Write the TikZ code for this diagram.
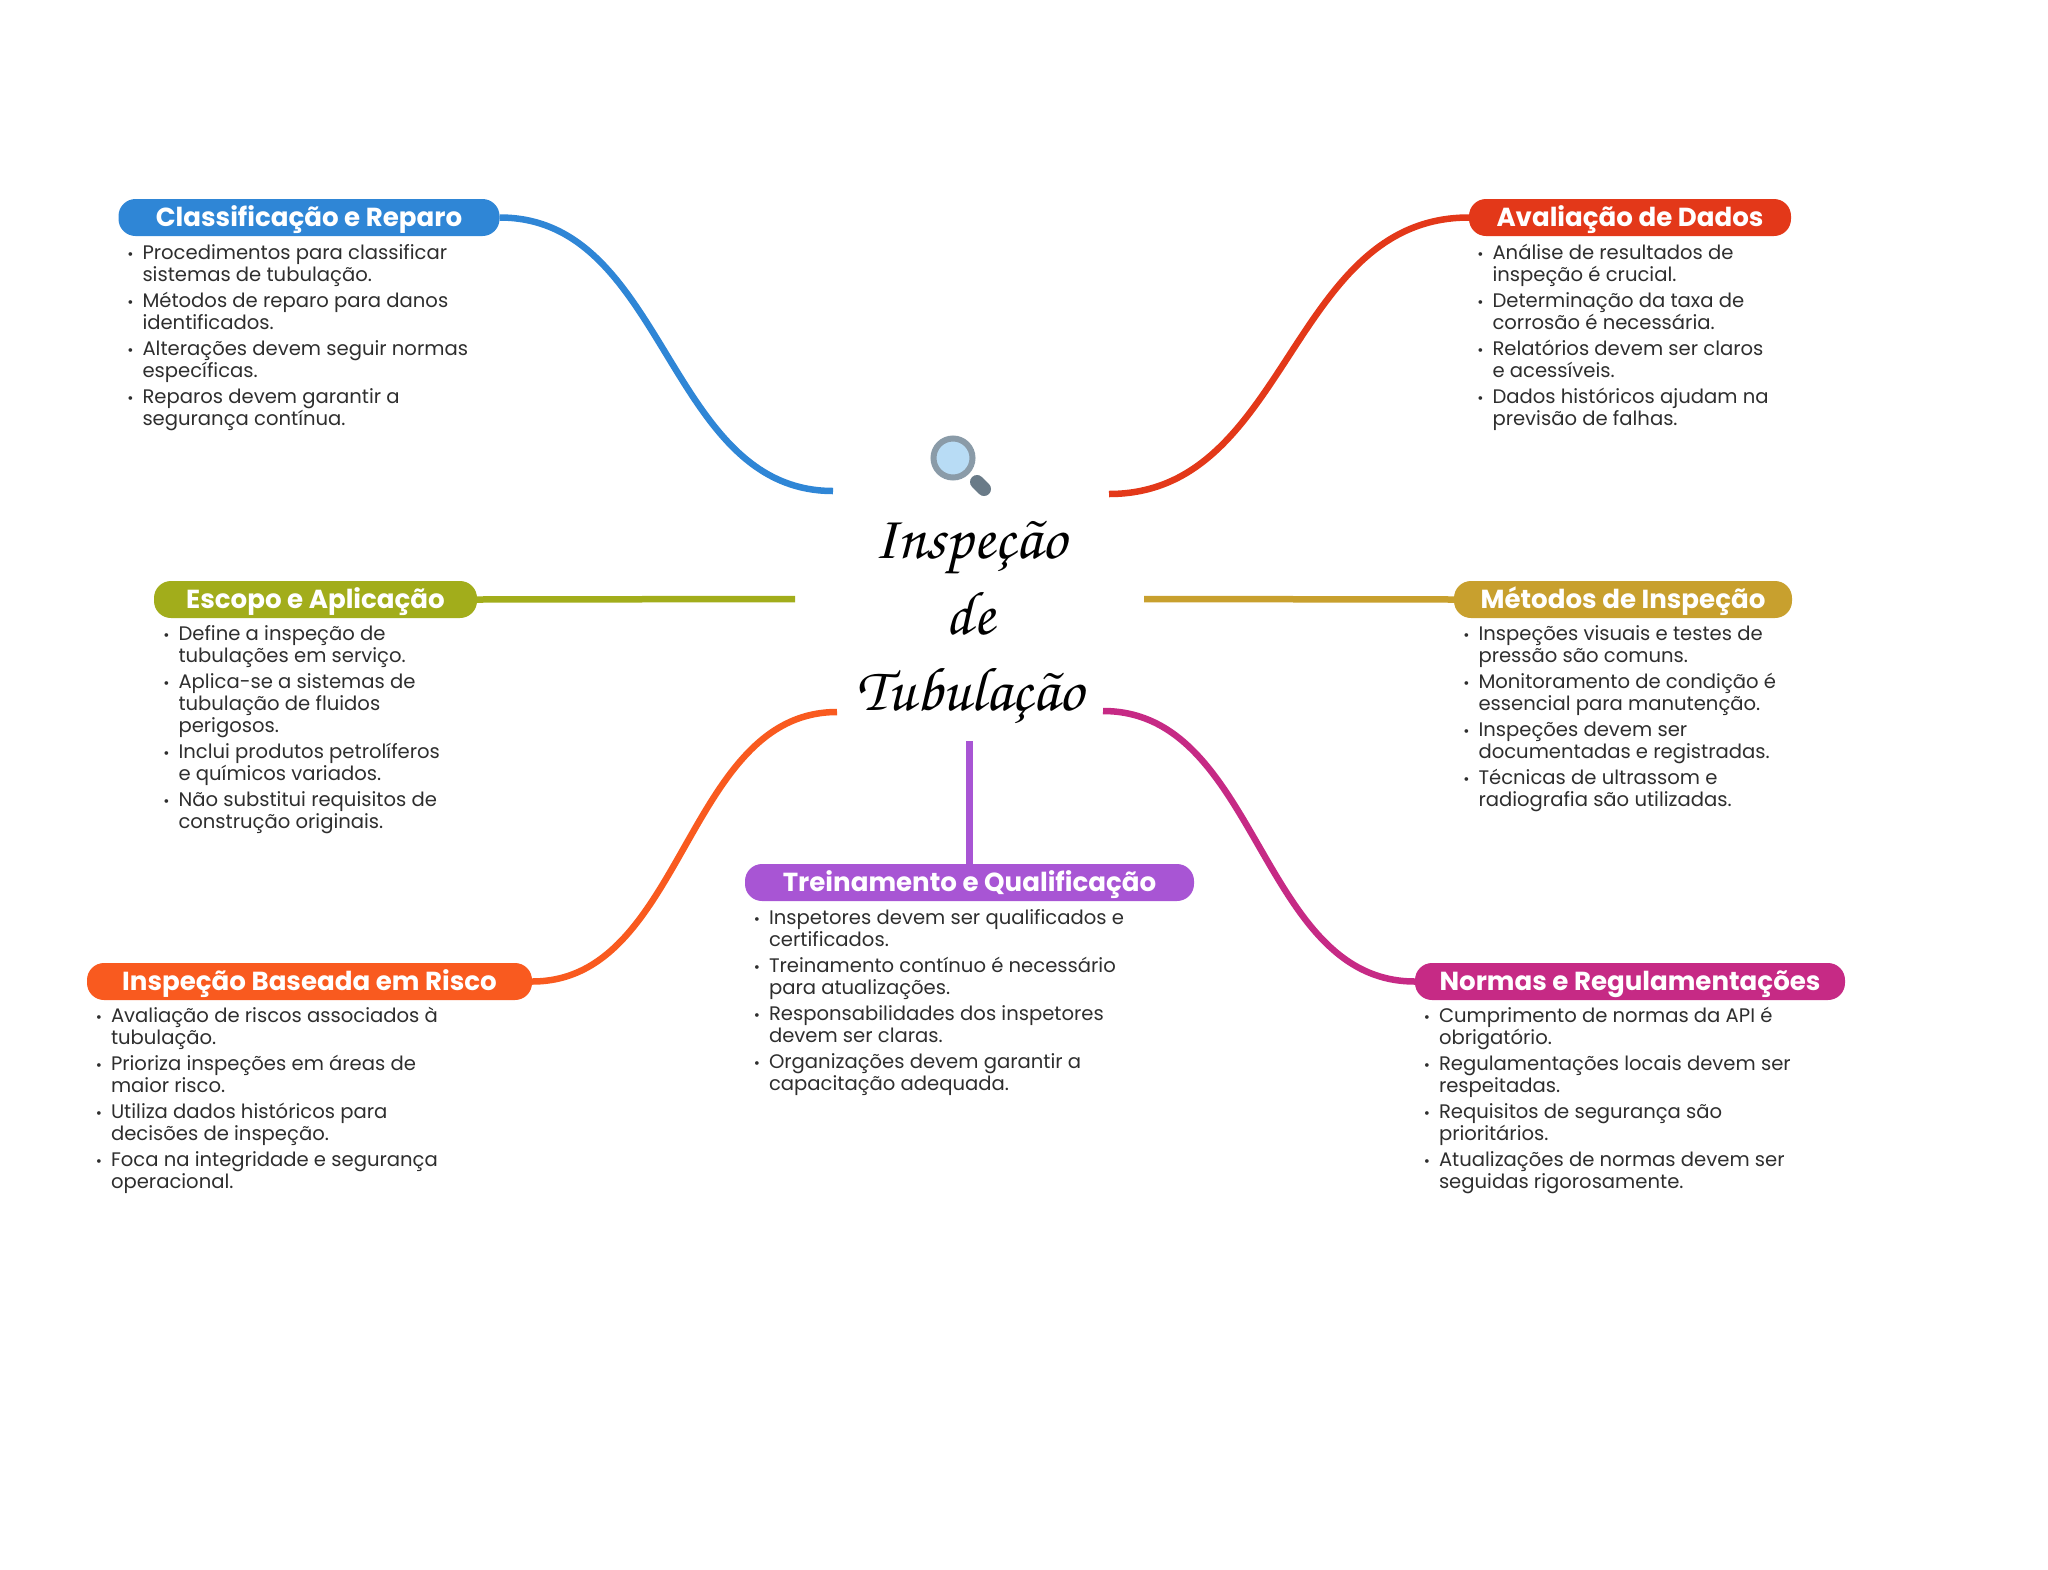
\documentclass[tikz,border=0pt]{standalone}
\usepackage{fontspec}
\setmainfont{Poppins}
\definecolor{mmblue}{HTML}{2F86D6}
\definecolor{mmred}{HTML}{E33819}
\definecolor{mmolive}{HTML}{A2AD1B}
\definecolor{mmgold}{HTML}{C8A02E}
\definecolor{mmpurple}{HTML}{A855D4}
\definecolor{mmorange}{HTML}{F95A1F}
\definecolor{mmpink}{HTML}{C62A85}
\definecolor{mmtext}{HTML}{2E2E2E}
\definecolor{mmring}{HTML}{8A9BA8}
\definecolor{mmhandle}{HTML}{6A7B88}
\definecolor{mmglass}{HTML}{B8DCF5}
\usetikzlibrary{positioning}
\lineskiplimit=-50pt
\newcommand{\itm}{\strut\llap{{\fontsize{15}{15}\selectfont •}\hspace{9pt}}}

\begin{document}
\begin{tikzpicture}[
  x=1pt,y=-1pt,
  topic/.style={rounded corners=17pt,minimum height=37pt,inner xsep=0pt,inner ysep=0pt,
    text height=20.5pt,text depth=3.5pt,text=white,font=\fontsize{26.1}{26}\selectfont\bfseries},
  items/.style={inner sep=0pt,align=left,text=mmtext,font=\fontsize{19.6}{21.7}\selectfont},
  link/.style={line width=6.5pt}
]
  \useasboundingbox (0,0) rectangle (2048,1569);

  % Free ends round the title
  \coordinate (endClassif) at (833,491);
  \coordinate (endAvalia) at (1109,494);
  \coordinate (endEscopo) at (795,599);
  \coordinate (endMetodos) at (1144,599);
  \coordinate (endRisco) at (837,712);
  \coordinate (endNormas) at (1103,711);
  \coordinate (endTreino) at (969.5,741);

  % Topics
  \node[topic,fill=mmblue,minimum width=381pt] (classif) at (309,217.5) {Classificação e Reparo};
  \node[topic,fill=mmred,minimum width=322pt] (avalia) at (1630,217.5) {Avaliação de Dados};
  \node[topic,fill=mmolive,minimum width=323pt] (escopo) at (315.5,599.5) {Escopo e Aplicação};
  \node[topic,fill=mmgold,minimum width=338pt] (metodos) at (1623,599.5) {Métodos de Inspeção};
  \node[topic,fill=mmpurple,minimum width=449pt] (treino) at (969.5,882.5) {Treinamento e Qualificação};
  \node[topic,fill=mmorange,minimum width=445pt] (risco) at (309.5,981.5) {Inspeção Baseada em Risco};
  \node[topic,fill=mmpink,minimum width=430pt] (normas) at (1630,981.5) {Normas e Regulamentações};

  % Connectors
  \draw[link,mmblue] (classif.east) .. controls +(167,0) and +(-167,0) .. (endClassif);
  \draw[link,mmred] (avalia.west) .. controls +(-180,0) and +(180,0) .. (endAvalia);
  \draw[link,mmolive] (escopo.east) -- (endEscopo);
  \draw[link,mmgold] (metodos.west) -- (endMetodos);
  \draw[link,mmorange] (risco.east) .. controls +(152,0) and +(-152,0) .. (endRisco);
  \draw[link,mmpink] (normas.west) .. controls +(-156,0) and +(156,0) .. (endNormas);
  \draw[link,mmpurple] (treino.north) -- (endTreino);

  % Bullet lists
  \node[items,below right=8pt and 24pt of classif.south west] (classifList) {
    \itm Procedimentos para classificar\\sistemas de tubulação.\\[4.6pt]
    \itm Métodos de reparo para danos\\identificados.\\[4.6pt]
    \itm Alterações devem seguir normas\\específicas.\\[4.6pt]
    \itm Reparos devem garantir a\\segurança contínua.};
  \node[items,below right=8pt and 23.5pt of avalia.south west] (avaliaList) {
    \itm Análise de resultados de\\inspeção é crucial.\\[4.6pt]
    \itm Determinação da taxa de\\corrosão é necessária.\\[4.6pt]
    \itm Relatórios devem ser claros\\e acessíveis.\\[4.6pt]
    \itm Dados históricos ajudam na\\previsão de falhas.};
  \node[items,below right=7pt and 24.5pt of escopo.south west] (escopoList) {
    \itm Define a inspeção de\\tubulações em serviço.\\[4.6pt]
    \itm Aplica-se a sistemas de\\tubulação de fluidos\\perigosos.\\[4.6pt]
    \itm Inclui produtos petrolíferos\\e químicos variados.\\[4.6pt]
    \itm Não substitui requisitos de\\construção originais.};
  \node[items,below right=7pt and 24.5pt of metodos.south west] (metodosList) {
    \itm Inspeções visuais e testes de\\pressão são comuns.\\[4.6pt]
    \itm Monitoramento de condição é\\essencial para manutenção.\\[4.6pt]
    \itm Inspeções devem ser\\documentadas e registradas.\\[4.6pt]
    \itm Técnicas de ultrassom e\\radiografia são utilizadas.};
  \node[items,below right=8pt and 24pt of treino.south west] (treinoList) {
    \itm Inspetores devem ser qualificados e\\certificados.\\[4.6pt]
    \itm Treinamento contínuo é necessário\\para atualizações.\\[4.6pt]
    \itm Responsabilidades dos inspetores\\devem ser claras.\\[4.6pt]
    \itm Organizações devem garantir a\\capacitação adequada.};
  \node[items,below right=7pt and 24pt of risco.south west] (riscoList) {
    \itm Avaliação de riscos associados à\\tubulação.\\[4.6pt]
    \itm Prioriza inspeções em áreas de\\maior risco.\\[4.6pt]
    \itm Utiliza dados históricos para\\decisões de inspeção.\\[4.6pt]
    \itm Foca na integridade e segurança\\operacional.};
  \node[items,below right=7pt and 24pt of normas.south west] (normasList) {
    \itm Cumprimento de normas da API é\\obrigatório.\\[4.6pt]
    \itm Regulamentações locais devem ser\\respeitadas.\\[4.6pt]
    \itm Requisitos de segurança são\\prioritários.\\[4.6pt]
    \itm Atualizações de normas devem ser\\seguidas rigorosamente.};

  % Title and magnifier
  \draw[line width=14pt,line cap=round,mmhandle] (977,482) -- (984,489);
  \draw[line width=6pt,mmring,fill=mmglass] (953,458) circle(19.5);
  \node[align=center,inner sep=0pt,font=\fontencoding{T1}\fontfamily{pzc}\fontsize{62}{76}\selectfont] (title) at (970,621) {Inspeção\\de\\Tubulação};
\end{tikzpicture}
\end{document}
